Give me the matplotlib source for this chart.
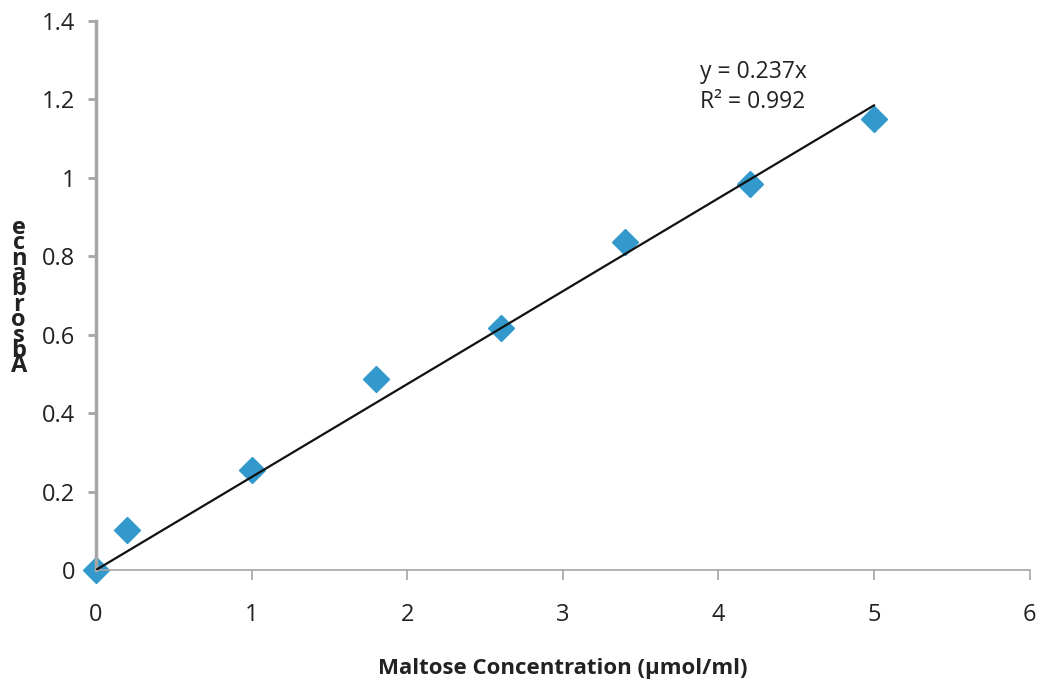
import numpy as np
import matplotlib
matplotlib.use("Agg")
import matplotlib.pyplot as plt

# maltose standard curve
conc = [0, 0.2, 1.0, 1.8, 2.6, 3.4, 4.2, 5.0]
absorbance = [0.0, 0.103, 0.256, 0.486, 0.616, 0.836, 0.985, 1.149]
slope = 0.237
fit_x = [0, 5.0]
x_ticks = [0, 1, 2, 3, 4, 5, 6]
y_ticks = [0, 0.2, 0.4, 0.6, 0.8, 1, 1.2, 1.4]
y_tick_labels = ["0", "0.2", "0.4", "0.6", "0.8", "1", "1.2", "1.4"]

plt.rcParams["font.family"] = ["Open Sans", "DejaVu Sans"]

fig = plt.figure(figsize=(10.4, 6.8), dpi=100)
ax = fig.add_axes([0.0923, 0.1618, 0.8977, 0.8072])

ax.plot(conc, absorbance, linestyle="none", marker="D", markersize=13,
        color="#3399CC", zorder=2, clip_on=False)
ax.plot(fit_x, [slope * v for v in fit_x], color="#111111", linewidth=1.6, zorder=3)

ax.set_xlim(0, 6)
ax.set_ylim(0, 1.4)
ax.set_xticks(x_ticks)
ax.set_yticks(y_ticks)
ax.set_yticklabels(y_tick_labels)

for side in ["top", "right"]:
    ax.spines[side].set_visible(False)
ax.spines["left"].set_color("#A6A6A6")
ax.spines["left"].set_linewidth(2.5)
ax.spines["bottom"].set_color("#A6A6A6")
ax.spines["bottom"].set_linewidth(1.2)
ax.tick_params(axis="y", direction="out", length=6, width=2, color="#A6A6A6",
               labelsize=17, labelcolor="#222222", pad=9)
ax.tick_params(axis="x", direction="out", length=7, width=1.2, color="#A6A6A6",
               labelsize=17, labelcolor="#222222", pad=17)

ax.text(3.88, 1.232, "y = 0.237x\nR² = 0.992", fontsize=16.5, color="#222222",
        linespacing=1.3, va="center", ha="left")

ax.set_xlabel("Maltose Concentration (µmol/ml)", fontsize=16, fontweight="bold",
              color="#222222", labelpad=22)

# y label as stacked letters (reads bottom to top)
label = "Absorbance"
fig.text(0.018, 0.563, "\n".join(reversed(label)), fontsize=17, fontweight="bold",
         color="#222222", ha="center", va="center", linespacing=0.52)

fig.savefig("out.png", dpi=100)
